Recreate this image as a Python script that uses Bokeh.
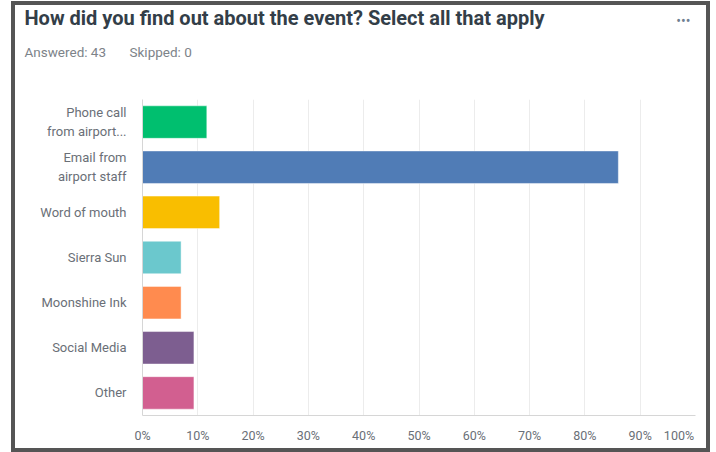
from bokeh.plotting import figure
from bokeh.models import FactorRange, Range1d, Title, FixedTicker, ColumnDataSource
from bokeh.embed import file_html
from bokeh.resources import INLINE

# ---- data ----
categories = ["Phone call\nfrom airport...", "Email from\nairport staff", "Word of mouth",
              "Sierra Sun", "Moonshine Ink", "Social Media", "Other"]
percents = [11.63, 86.05, 13.95, 6.98, 6.98, 9.30, 9.30]
colors = ["#00BF6F", "#507CB6", "#F9BE00", "#6BC8CD", "#FF8B4F", "#7D5E90", "#D25F90"]
x_ticks = [0, 10, 20, 30, 40, 50, 60, 70, 80, 90, 100]
x_tick_labels = ["0%", "10%", "20%", "30%", "40%", "50%", "60%", "70%", "80%", "90%",
                 "100%\u00a0\u00a0\u00a0\u00a0"]
title_text = "How did you find out about the event? Select all that apply"
answered_text = "Answered: 43\u00a0\u00a0\u00a0\u00a0\u00a0\u00a0\u00a0Skipped: 0"
menu_text = "\u2022\u2022\u2022"

FONT = "Roboto"
LABEL_COLOR = "#6a6f77"

src = ColumnDataSource(dict(cat=categories, pct=percents, color=colors))

p = figure(
    width=699, height=451,
    y_range=FactorRange(factors=list(reversed(categories))),
    x_range=Range1d(0, 100),
    output_backend="svg", toolbar_location=None,
    min_border_left=127, min_border_right=19, min_border_top=94, min_border_bottom=41,
)
p.styles = {"border": "4px solid #555555", "margin-top": "1px", "margin-left": "11px"}
p.background_fill_color = "white"
p.border_fill_color = "white"
p.outline_line_color = None

p.hbar(y="cat", right="pct", left=0, height=0.72, source=src, fill_color="color",
       line_color="white", line_alpha=0.45, line_width=1)

# axes
p.xaxis.ticker = FixedTicker(ticks=x_ticks)
p.xaxis.major_label_overrides = dict(zip(x_ticks, x_tick_labels))
p.xaxis.axis_line_color = "#d6d6d6"
p.xaxis.major_tick_line_color = None
p.xaxis.minor_tick_line_color = None
p.xaxis.major_tick_out = 0
p.xaxis.major_label_standoff = 12
p.xaxis.major_label_text_font = FONT
p.xaxis.major_label_text_font_size = "12.5px"
p.xaxis.major_label_text_color = LABEL_COLOR

p.yaxis.axis_line_color = "#d6d6d6"
p.yaxis.major_tick_line_color = None
p.yaxis.minor_tick_line_color = None
p.yaxis.major_tick_out = 0
p.yaxis.major_label_standoff = 16
p.yaxis.major_label_text_font = FONT
p.yaxis.major_label_text_font_size = "13px"
p.yaxis.major_label_text_color = LABEL_COLOR
p.yaxis.major_label_text_line_height = 1.25

p.xgrid.grid_line_color = "#ececec"
p.ygrid.grid_line_color = None
p.y_range.range_padding = 0

# header (stacked upward from the plot frame)
p.add_layout(Title(text=answered_text, align="left", offset=-118, standoff=75,
                   vertical_align="top",
                   text_font=FONT, text_font_size="13.5px", text_font_style="normal",
                   text_color="#7d8389"), "above")
p.add_layout(Title(text=title_text, align="left", offset=-118, standoff=-46,
                   text_font=FONT, text_font_size="20px", text_font_style="bold",
                   text_color="#333e48"), "above")
p.add_layout(Title(text=menu_text, align="right", offset=5, standoff=-44,
                   text_font=FONT, text_font_size="14px", text_font_style="normal",
                   text_color="#6f7f91"), "above")

open("out.html", "w").write(file_html(p, INLINE))
